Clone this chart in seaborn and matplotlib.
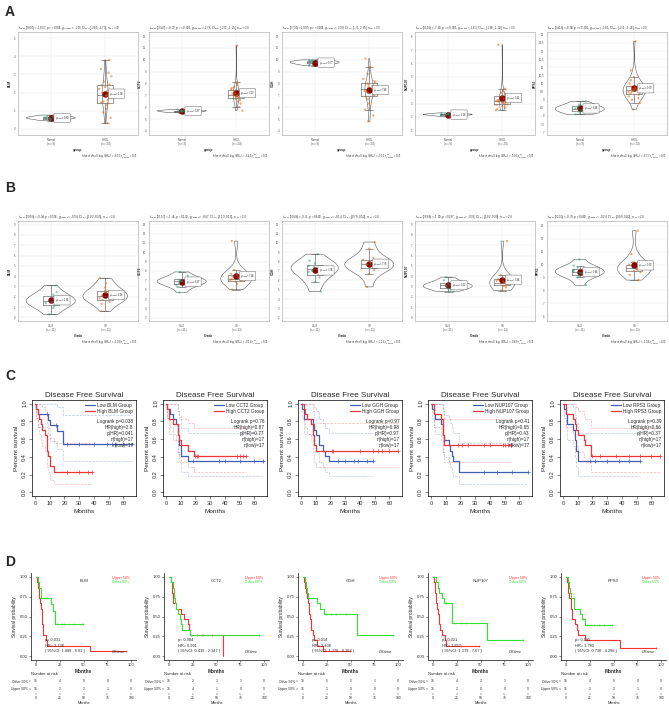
import numpy as np
import pandas as pd
import matplotlib.pyplot as plt
import seaborn as sns
from matplotlib.lines import Line2D

genes = ['BLM', 'CCT2', 'GGH', 'NUP107', 'RPS3']

# ---- expression, normal vs tumour (A) and by grade (B) ----
blm_normal = [0.45, 0.5, 0.55, 0.58, 0.6, 0.62, 0.65, 0.7, 0.75]
blm_tumor = [0.3, 0.6, 0.9, 1.1, 1.3, 1.4, 1.45, 1.5, 1.6, 1.7, 1.8, 1.85,
             1.9, 2.0, 2.1, 2.2, 2.3, 2.4, 2.45, 2.6, 2.9, 3.1, 3.3, 3.8]
cct2_normal = [5.55, 5.6, 5.6, 5.65, 5.7, 5.7, 5.75, 5.8, 5.7]
cct2_tumor = [5.7, 6.0, 6.3, 6.5, 6.6, 6.7, 6.8, 6.85, 6.9, 6.95, 7.0, 7.0,
              7.05, 7.1, 7.15, 7.2, 7.3, 7.4, 7.5, 7.6, 7.7, 7.9, 8.1, 11.2]
ggh_normal = [9.5, 9.6, 9.7, 9.7, 9.8, 9.8, 9.9, 9.9, 10.0]
ggh_tumor = [4.8, 5.3, 5.8, 6.3, 6.7, 6.9, 7.0, 7.1, 7.2, 7.3, 7.4, 7.5,
             7.55, 7.6, 7.7, 7.8, 7.9, 8.0, 8.1, 8.2, 8.4, 8.8, 9.4, 10.1]
nup107_normal = [2.05, 2.1, 2.15, 2.15, 2.2, 2.2, 2.25, 2.3, 2.2]
nup107_tumor = [2.5, 2.6, 2.7, 2.8, 2.9, 2.95, 3.0, 3.05, 3.1, 3.1, 3.15, 3.2,
                3.25, 3.3, 3.35, 3.4, 3.5, 3.55, 3.6, 3.7, 3.8, 3.9, 4.1, 7.4]
rps3_normal = [8.1, 8.2, 8.3, 8.4, 8.45, 8.5, 8.6, 8.7, 8.9]
rps3_tumor = [8.4, 8.8, 9.0, 9.1, 9.2, 9.3, 9.35, 9.4, 9.45, 9.5, 9.55, 9.6,
              9.6, 9.65, 9.7, 9.75, 9.8, 9.85, 9.9, 10.0, 10.2, 10.4, 10.8, 12.6]
grade = ['G1/2', 'G3', 'G1/2', 'G1/2', 'G3', 'G1/2', 'G1/2', 'G3', 'G1/2', 'G3', 'G1/2', 'G3',
         'G1/2', 'G3', 'G3', 'G1/2', 'G3', 'G3', 'G1/2', 'G3', 'G3', 'G1/2', 'G3', 'G3']

a_yticks = [range(0, 6), range(4, 13), range(4, 13), range(1, 9), np.arange(7, 13.1, 0.5)]
b_yticks = [range(0, 10), range(3, 14), range(2, 13), range(0, 10), range(6, 14)]

a_stats = ['(38.09) = -10.37, $p$ = < 0.001, $\\hat{g}_{Hedges}$ = -2.15, CI$_{95\\%}$ [-2.85, -1.73]',
           '(29.47) = -8.23, $p$ = < 0.001, $\\hat{g}_{Hedges}$ = -1.76, CI$_{95\\%}$ [-2.32, -1.25]',
           '(37.35) = 10.95, $p$ = < 0.001, $\\hat{g}_{Hedges}$ = 2.30, CI$_{95\\%}$ [1.71, 2.85]',
           '(31.02) = -7.80, $p$ = < 0.001, $\\hat{g}_{Hedges}$ = -1.63, CI$_{95\\%}$ [-2.18, -1.10]',
           '(34.16) = -8.58, $p$ = < 0.001, $\\hat{g}_{Hedges}$ = -1.81, CI$_{95\\%}$ [-2.41, -1.26]']
a_bf = ['-8.92', '-6.45', '-9.31', '-5.98', '-6.77']
b_stats = ['(30.90) = -0.94, $p$ = 0.356, $\\hat{g}_{Hedges}$ = -0.34, CI$_{95\\%}$ [-1.02, 0.35]',
           '(31.57) = -1.45, $p$ = 0.159, $\\hat{g}_{Hedges}$ = -0.47, CI$_{95\\%}$ [-1.13, 0.19]',
           '(30.46) = -0.41, $p$ = 0.683, $\\hat{g}_{Hedges}$ = -0.14, CI$_{95\\%}$ [-0.79, 0.52]',
           '(26.86) = -1.09, $p$ = 0.287, $\\hat{g}_{Hedges}$ = -0.36, CI$_{95\\%}$ [-1.02, 0.30]',
           '(32.33) = -0.70, $p$ = 0.489, $\\hat{g}_{Hedges}$ = -0.24, CI$_{95\\%}$ [-0.90, 0.42]']
b_bf = ['-1.00', '-0.58', '-1.14', '-0.89', '-1.06']

# ---- disease free survival (C): event / censored times, months ----
blm_low_ev, blm_low_cen = [1, 2, 9, 10, 15, 19, 19], [8, 14, 22, 30, 40, 49, 52, 54, 60, 66]
blm_high_ev, blm_high_cen = [1, 2, 3, 4, 5, 7, 8, 8, 8, 9, 10, 10, 13], [22, 30, 36, 39]
cct2_low_ev, cct2_low_cen = [1, 3, 5, 7, 8, 8, 9, 9, 10, 10, 15], [18, 36, 40, 50, 60, 66]
cct2_high_ev, cct2_high_cen = [1, 2, 2, 5, 8, 8, 9, 10, 15, 19], [20, 21, 22, 48, 50, 52, 54]
ggh_low_ev, ggh_low_cen = [1, 2, 2, 8, 9, 10, 12, 12, 15, 16, 19], [25, 30, 36, 39, 45, 49]
ggh_high_ev, ggh_high_cen = [2, 3, 4, 7, 8, 8, 9, 9, 10], [21, 22, 40, 49, 52, 55, 60, 66]
nup107_low_ev, nup107_low_cen = [1, 2, 3, 7, 8, 8, 9, 12, 13, 14, 15, 19, 19], [36, 45, 55, 66]
nup107_high_ev, nup107_high_cen = [2, 2, 7, 8, 8, 8, 9, 9], [18, 21, 25, 36, 40, 49, 50, 52, 54]
rps3_low_ev, rps3_low_cen = [1, 2, 3, 3, 7, 8, 8, 9, 9, 10, 10], [18, 22, 30, 38, 45, 52]
rps3_high_ev, rps3_high_cen = [2, 2, 7, 8, 9, 10, 14, 15, 19, 19], [20, 25, 36, 45, 52, 60, 66]
c_logrank = ['0.038', '0.76', '0.97', '0.41', '0.39']
c_hr = ['2.8', '0.87', '0.98', '0.65', '0.66']
c_phr = ['0.041', '0.77', '0.97', '0.43', '0.37']

# ---- overall survival (D) ----
os_blm_up_ev, os_blm_up_cen = [1, 2, 3, 3, 4, 5, 6, 7, 7, 8, 8, 11, 12, 57], [95]
os_blm_ot_ev, os_blm_ot_cen = [2, 3, 5, 5, 16, 18, 20, 20], [10, 12, 22, 27, 30, 40, 49]
os_cct2_up_ev, os_cct2_up_cen = [2, 3, 3, 4, 4, 8, 13, 16, 20, 21, 22, 57], [30, 35, 45]
os_cct2_ot_ev, os_cct2_ot_cen = [2, 4, 5, 5, 7, 8, 10, 12, 13, 14, 22], [23, 24, 36, 95]
os_ggh_up_ev, os_ggh_up_cen = [1, 2, 3, 4, 5, 6, 7, 8, 9, 9, 11, 12, 15, 21], [49]
os_ggh_ot_ev, os_ggh_ot_cen = [2, 3, 4, 5, 15, 18, 22, 57], [23, 24, 24, 30, 35, 45, 95]
os_nup107_up_ev, os_nup107_up_cen = [1, 2, 2, 3, 3, 4, 5, 6, 7, 8, 10, 13, 14], [30, 48]
os_nup107_ot_ev, os_nup107_ot_cen = [3, 5, 6, 10, 12, 20, 20, 20, 57], [13, 14, 22, 30, 35, 95]
os_rps3_up_ev, os_rps3_up_cen = [1, 2, 2, 3, 5, 5, 7, 7, 10, 12, 13, 20, 57], [22, 95]
os_rps3_ot_ev, os_rps3_ot_cen = [2, 3, 4, 5, 9, 9, 15, 17, 20], [18, 22, 30, 35, 40, 48]
d_p = ['0.031', '0.984', '0.014', '0.021', '0.195']
d_hr = ['2.738', '0.991', '3.408', '2.867', '1.780']
d_ci = ['1.089 - 6.91', '0.419 - 2.347', '1.270 - 9.163', '1.179 - 7.07', '0.738 - 4.296']

normals = [blm_normal, cct2_normal, ggh_normal, nup107_normal, rps3_normal]
tumors = [blm_tumor, cct2_tumor, ggh_tumor, nup107_tumor, rps3_tumor]
dfs = [(blm_low_ev, blm_low_cen, blm_high_ev, blm_high_cen),
       (cct2_low_ev, cct2_low_cen, cct2_high_ev, cct2_high_cen),
       (ggh_low_ev, ggh_low_cen, ggh_high_ev, ggh_high_cen),
       (nup107_low_ev, nup107_low_cen, nup107_high_ev, nup107_high_cen),
       (rps3_low_ev, rps3_low_cen, rps3_high_ev, rps3_high_cen)]
oss = [(os_blm_up_ev, os_blm_up_cen, os_blm_ot_ev, os_blm_ot_cen),
       (os_cct2_up_ev, os_cct2_up_cen, os_cct2_ot_ev, os_cct2_ot_cen),
       (os_ggh_up_ev, os_ggh_up_cen, os_ggh_ot_ev, os_ggh_ot_cen),
       (os_nup107_up_ev, os_nup107_up_cen, os_nup107_ot_ev, os_nup107_ot_cen),
       (os_rps3_up_ev, os_rps3_up_cen, os_rps3_ot_ev, os_rps3_ot_cen)]

sns.set_theme(style='white')
plt.rcParams['font.family'] = ['Liberation Sans', 'DejaVu Sans']
plt.rcParams['mathtext.fontset'] = 'dejavusans'

W, H = 669, 705
fig = plt.figure(figsize=(W / 100, H / 100), dpi=100)


def box(l, t, w, h):
    return [l / W, 1 - (t + h) / H, w / W, h / H]


def km(ev, cen):
    t = np.array(ev + cen, float)
    e = np.array([1] * len(ev) + [0] * len(cen))
    xs, s, lo, hi = [0.0], [1.0], [1.0], [1.0]
    surv, var = 1.0, 0.0
    for u in np.unique(t[e == 1]):
        n = (t >= u).sum()
        d = ((t == u) & (e == 1)).sum()
        surv *= 1 - d / n
        if n > d:
            var += d / (n * (n - d))
        se = np.sqrt(var)
        xs.append(u)
        s.append(surv)
        lo.append(surv * np.exp(-1.96 * se))
        hi.append(min(1.0, surv * np.exp(1.96 * se)))
    xs.append(t.max())
    s.append(s[-1]); lo.append(lo[-1]); hi.append(hi[-1])
    cx = np.array(cen, float)
    idx = np.searchsorted(np.array(xs[:-1]), cx, side='right') - 1
    cy = np.array(s)[idx]
    return xs, s, lo, hi, cx, cy


def violin(ax, df, order, yticks, gene, xlab, subtitle, caption):
    pal = dict(zip(order, ['#1B9E77', '#D95F02']))
    kw = dict(data=df, x='group', y='value', order=order, ax=ax)
    sns.violinplot(**kw, inner=None, fill=False, color='0.35', linewidth=0.4, cut=0, width=0.9)
    sns.boxplot(**kw, width=0.3, fill=False, color='0.3', linewidth=0.4, showfliers=False,
                whis=1.5)
    sns.stripplot(**kw, hue='group', palette=pal, size=1.6, jitter=0.12, alpha=0.55,
                  legend=False, zorder=3)
    sns.pointplot(**kw, estimator='mean', errorbar=None, color='#8B0000', marker='o',
                  markersize=2.6, linestyle='none')
    means = df.groupby('group')['value'].mean()
    counts = df.groupby('group').size()
    for i, g in enumerate(order):
        ax.text(i + 0.07, means[g], '$\\hat{\\mu}_{mean}$=%.2f' % means[g], fontsize=1.8,
                va='center', zorder=5,
                bbox=dict(boxstyle='round,pad=0.25', fc='white', ec='0.3', lw=0.3))
    ax.set_xticks(range(len(order)))
    ax.set_xticklabels([f'{g}\n(n = {counts[g]})' for g in order], fontsize=2)
    ticks = list(yticks)
    ax.set_yticks(ticks)
    ax.set_yticklabels([('%g' % v) for v in ticks], fontsize=2)
    step = ticks[1] - ticks[0]
    ax.set_ylim(ticks[0] - 0.35 * step, ticks[-1] + 0.35 * step)
    ax.set_xlim(-0.6, 1.6)
    ax.tick_params(length=1, width=0.3, pad=1, colors='0.3')
    ax.grid(True, color='#E6E6E6', lw=0.3)
    ax.set_axisbelow(True)
    for sp in ax.spines.values():
        sp.set_color('0.7'); sp.set_linewidth(0.5)
    ax.set_xlabel(xlab, fontsize=2.3, fontweight='bold', labelpad=1)
    ax.set_ylabel(gene, fontsize=2.3, fontweight='bold', labelpad=1)
    ax.set_title('$t_{Welch}$' + subtitle + ', $n_{obs}$ = %d' % len(df), fontsize=2,
                 loc='left', pad=2)
    ax.text(1.0, -0.16, 'In favor of null: $\\log_{e}(BF_{01})$ = ' + caption
            + ', $r_{Cauchy}^{JZS}$ = 0.71', transform=ax.transAxes, ha='right',
            va='top', fontsize=1.8)


a_left = [18, 149, 282, 415, 547]
c_left = [32, 163, 298, 428, 560]
d_left = [31, 164, 298, 428, 561]

for i, g in enumerate(genes):
    # A: normal vs tumour
    ax = fig.add_axes(box(a_left[i], 32, 120, 103))
    df = pd.DataFrame({'group': ['Normal'] * len(normals[i]) + ['CHOL'] * len(tumors[i]),
                       'value': normals[i] + tumors[i]})
    violin(ax, df, ['Normal', 'CHOL'], a_yticks[i], g, 'group', a_stats[i], a_bf[i])

    # B: grade
    ax = fig.add_axes(box(a_left[i], 221, 120, 100))
    df = pd.DataFrame({'group': grade, 'value': tumors[i]})
    violin(ax, df, ['G1/2', 'G3'], b_yticks[i], g, 'Grade', b_stats[i], b_bf[i])

    # C: disease free survival
    ax = fig.add_axes(box(c_left[i], 400, 104, 96))
    low_ev, low_cen, high_ev, high_cen = dfs[i]
    for ev, cen, col in [(low_ev, low_cen, '#3E5FB4'), (high_ev, high_cen, '#EE3535')]:
        xs, s, lo, hi, cx, cy = km(ev, cen)
        ax.step(xs, lo, where='post', color=col, lw=0.5, ls='--', alpha=0.35)
        ax.step(xs, hi, where='post', color=col, lw=0.5, ls='--', alpha=0.35)
        ax.step(xs, s, where='post', color=col, lw=0.9)
        ax.plot(cx, cy, ls='none', marker='+', ms=2.5, mew=0.5, color=col)
    ax.set_xlim(-2, 68.5)
    ax.set_ylim(-0.04, 1.04)
    ax.set_xticks(range(0, 61, 10))
    ax.set_yticks(np.arange(0, 1.01, 0.2))
    ax.set_yticklabels(['0.0', '0.2', '0.4', '0.6', '0.8', '1.0'], rotation=90, va='center')
    ax.tick_params(labelsize=4, length=2, width=0.4, pad=1.5, direction='out',
                   left=True, bottom=True)
    for sp in ax.spines.values():
        sp.set_color('black'); sp.set_linewidth(0.5)
    ax.set_title('Disease Free Survival', fontsize=5.8, pad=2.5)
    ax.set_xlabel('Months', fontsize=4.6, labelpad=2)
    ax.set_ylabel('Percent survival', fontsize=4.6, labelpad=2)
    ax.legend(handles=[Line2D([], [], color='#3E5FB4', lw=0.9),
                       Line2D([], [], color='#EE3535', lw=0.9)],
              labels=[f'Low {g} Group', f'High {g} Group'], loc='upper right',
              fontsize=3.4, frameon=False, handlelength=2.2, borderaxespad=0.2,
              labelspacing=0.15, handletextpad=0.4)
    lines = [f'Logrank p={c_logrank[i]}', f'HR(high)={c_hr[i]}', f'p(HR)={c_phr[i]}',
             f'n(high)={len(high_ev) + len(high_cen)}', f'n(low)={len(low_ev) + len(low_cen)}']
    for k, txt in enumerate(lines):
        ax.text(0.975, 0.775 - k * 0.062, txt, transform=ax.transAxes, ha='right',
                va='center', fontsize=3.4)

    # D: overall survival + risk table
    ax = fig.add_axes(box(d_left[i], 573, 105, 87))
    up_ev, up_cen, ot_ev, ot_cen = oss[i]
    for ev, cen, col in [(up_ev, up_cen, '#FF3030'), (ot_ev, ot_cen, '#33E033')]:
        xs, s, lo, hi, cx, cy = km(ev, cen)
        ax.step(xs, s, where='post', color=col, lw=0.8)
        ax.plot(cx, cy, ls='none', marker='+', ms=2, mew=0.4, color=col)
    ax.set_xlim(-5, 105)
    ax.set_ylim(-0.05, 1.05)
    ax.set_xticks([0, 25, 50, 75, 100])
    ax.set_yticks([0, 0.25, 0.5, 0.75, 1.0])
    ax.set_yticklabels(['0.00', '0.25', '0.50', '0.75', '1.00'])
    ax.tick_params(labelsize=3, length=1.5, width=0.4, pad=1, left=True, bottom=True)
    sns.despine(ax=ax)
    for sp in ['left', 'bottom']:
        ax.spines[sp].set_color('0.2'); ax.spines[sp].set_linewidth(0.6)
    ax.set_xlabel('Months', fontsize=3.4, fontweight='bold', labelpad=1)
    ax.set_ylabel('Survival probability', fontsize=3.4, labelpad=2)
    ax.text(50, 0.95, g, ha='center', va='center', fontsize=3)
    ax.text(80, 0.99, 'Upper 50%', color='#FF3030', fontsize=2.6, va='center')
    ax.text(80, 0.93, 'Other 50%', color='#33E033', fontsize=2.6, va='center')
    ax.text(10, 0.2, f'p= {d_p[i]}', fontsize=2.8, va='center')
    ax.text(10, 0.13, f'HR= {d_hr[i]}', fontsize=2.8, va='center')
    ax.text(10, 0.06, f'( 95%CI: {d_ci[i]} )', fontsize=2.8, va='center')
    ax.text(80, 0.05, 'OStime', fontsize=2.8, va='center', style='italic')

    ar = fig.add_axes(box(d_left[i], 677, 105, 16))
    ticks = [0, 25, 50, 75, 100]
    for row, (ev, cen) in enumerate([(up_ev, up_cen), (ot_ev, ot_cen)]):
        t = np.array(ev + cen, float)
        for tk in ticks:
            ar.text(tk, row, str((t >= tk).sum()), ha='center', va='center', fontsize=2.4)
    ar.set_xlim(-5, 105)
    ar.set_ylim(-0.6, 1.6)
    ar.set_xticks(ticks)
    ar.set_yticks([1, 0])
    ar.set_yticklabels(['Other 50%', 'Upper 50%'])
    ar.tick_params(labelsize=2.4, length=1.2, width=0.3, pad=0.8, left=True, bottom=True)
    sns.despine(ax=ar, left=True, bottom=True)
    ar.set_xlabel('Months', fontsize=2.8, labelpad=0.8)
    ar.set_title('Number at risk', loc='left', fontsize=3, pad=1.5)

for lab, y in [('A', 12), ('B', 188), ('C', 376), ('D', 562)]:
    fig.text(5 / W, 1 - y / H, lab, fontsize=10, fontweight='bold', va='center')

fig.savefig('out.png', dpi=100, facecolor='white')
